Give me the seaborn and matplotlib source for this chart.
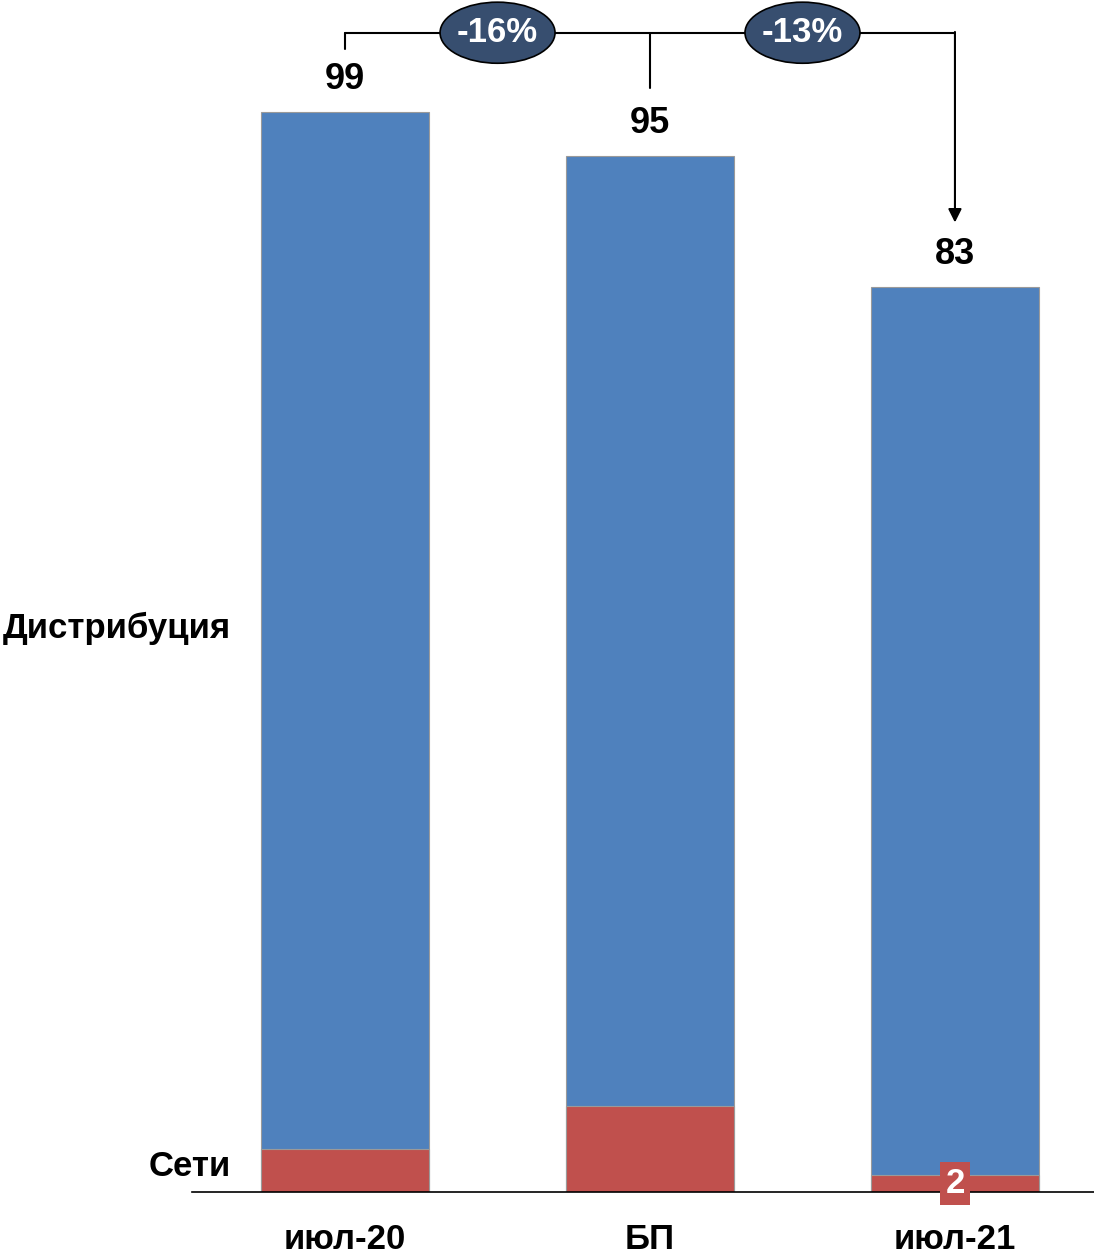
import matplotlib
matplotlib.use("Agg")
import matplotlib.pyplot as plt
from matplotlib.patches import Ellipse
import seaborn as sns
import pandas as pd

categories = ["июл-20", "БП", "июл-21"]
totals = [99, 95, 83]
seti = [3.9, 7.9, 1.6]
seti_labels = ["", "", "2"]
series_names = ["Дистрибуция", "Сети"]

BLUE = "#4F81BD"
RED = "#C0504D"
NAVY = "#374E6F"

sns.set_theme(style="white")
plt.rcParams["font.family"] = ["Liberation Sans", "DejaVu Sans"]
plt.rcParams["text.color"] = "black"
plt.rcParams["xtick.color"] = "black"
plt.rcParams["xtick.labelcolor"] = "black"

df = pd.DataFrame({"cat": categories, "total": totals, "seti": seti})

fig = plt.figure(figsize=(10.94, 12.54), dpi=100)
ax = fig.add_axes([192 / 1094, 62 / 1254, 1 - 192 / 1094, 1192 / 1254])

sns.barplot(data=df, x="cat", y="total", color=BLUE, width=0.55, ax=ax,
            edgecolor="#9a9a9a", linewidth=0.8, saturation=1)
sns.barplot(data=df, x="cat", y="seti", color=RED, width=0.55, ax=ax,
            edgecolor="#9a9a9a", linewidth=0.8, saturation=1)

ax.set_xlim(-0.502, 2.456)
ax.set_ylim(0, 109.3)
ax.set_xlabel("")
ax.set_ylabel("")
ax.set_yticks([])
for s in ["top", "right", "left"]:
    ax.spines[s].set_visible(False)
ax.spines["bottom"].set_color("black")
ax.spines["bottom"].set_linewidth(1.2)
ax.tick_params(axis="x", length=0, pad=22, colors="black")
for lbl in ax.get_xticklabels():
    lbl.set_fontsize(25)
    lbl.set_fontweight("bold")
    lbl.set_color("black")

# total labels
for i, t in enumerate(totals):
    ax.text(i, t + 3.0, f"{t}", ha="center", va="center", fontsize=26,
            fontweight="bold", color="black", clip_on=False)

# small label on the red segment
for i, lab in enumerate(seti_labels):
    if lab:
        ax.text(i, seti[i] / 2, lab, ha="center", va="center", fontsize=25,
                fontweight="bold", color="white",
                bbox=dict(boxstyle="square,pad=0.15", fc=RED, ec="none"))

# series labels on the left
fig.text(231 / 1094, 1 - 628 / 1254, series_names[0], ha="right", va="center",
         fontsize=25, fontweight="bold", color="black")
fig.text(231 / 1094, 1 - 1167 / 1254, series_names[1], ha="right", va="center",
         fontsize=25, fontweight="bold", color="black")

# bracket with arrows
ytop = max(totals) + 7.3
lk = dict(color="black", lw=1.5, clip_on=False)
ax.plot([0, 0], [totals[0] + 5.8, ytop], **lk)
ax.plot([0, 2], [ytop, ytop], **lk)
ax.plot([1, 1], [ytop, totals[1] + 6.2], **lk)
ax.annotate("", xy=(2, totals[2] + 5.9), xytext=(2, ytop + 0.07),
            arrowprops=dict(arrowstyle="-|>", color="black", lw=1.5,
                            mutation_scale=20, shrinkA=0, shrinkB=0),
            annotation_clip=False)

for xc, base in [(0.5, totals[0]), (1.5, totals[1])]:
    pct = round((totals[2] / base - 1) * 100)
    e = Ellipse((xc, ytop), 0.377, 5.6, facecolor=NAVY, edgecolor="black",
                lw=1.2, clip_on=False, zorder=5)
    ax.add_patch(e)
    ax.text(xc, ytop, f"{pct}%", ha="center", va="center", fontsize=25,
            fontweight="bold", color="white", zorder=6)

fig.savefig("out.png", dpi=100)
